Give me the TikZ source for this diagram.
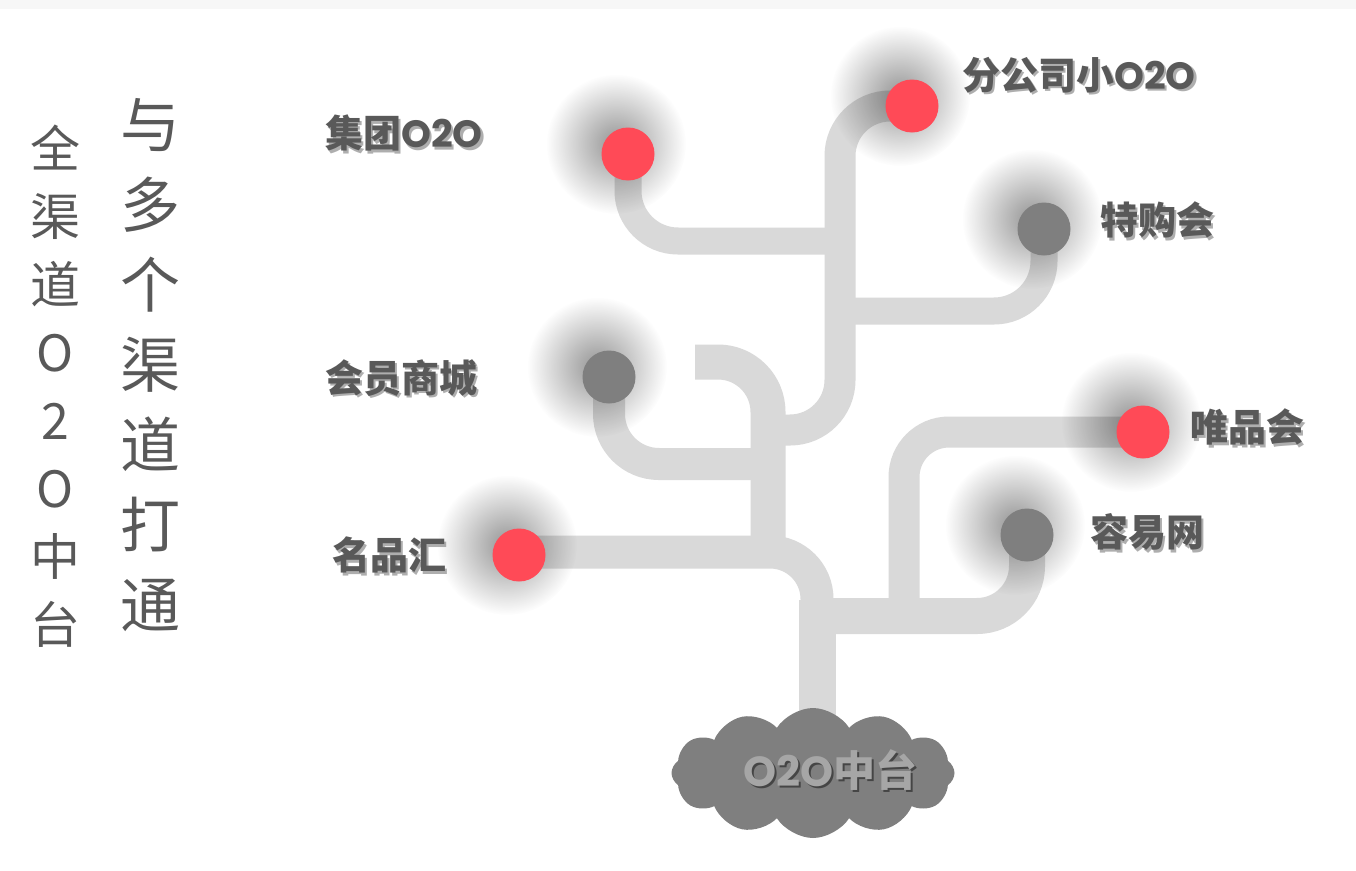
\documentclass[tikz,border=0pt]{standalone}
\usepackage{fontspec}
\newfontfamily\cjkfont{Noto Sans CJK SC}
\newfontfamily\popfont{Poppins}
\usetikzlibrary{shapes.symbols,fadings}
\definecolor{pipegray}{HTML}{D9D9D9}
\definecolor{dotred}{HTML}{FF4A57}
\definecolor{dotgray}{HTML}{7F7F7F}
\definecolor{txtgray}{HTML}{595959}
\definecolor{shadowgray}{HTML}{8C8C8C}
\definecolor{cloudtxt}{HTML}{A6A6A6}
\definecolor{topband}{HTML}{F7F7F7}
\tikzfading[name=glowfade, inner color=transparent!0, outer color=transparent!100]
\begin{document}
\begin{tikzpicture}[x=1pt,y=-1pt,
  pipe/.style={draw=pipegray,line width=#1,line cap=butt,rounded corners=50pt},
  pipe/.default=31pt,
  dotbase/.style={circle,minimum size=53pt,inner sep=0pt},
  reddot/.style={dotbase,fill=dotred},
  graydot/.style={dotbase,fill=dotgray},
  glow/.style={fill=black,opacity=0.42,path fading=glowfade},
  lbl/.style={anchor=west,inner sep=0pt,text=txtgray,font=\fontsize{38}{40}\selectfont\bfseries},
  lblshadow/.style={lbl,text=shadowgray,opacity=0.7,xshift=2.5pt,yshift=-2.5pt},
  coltext/.style={align=center,text=txtgray,inner sep=0pt}]
\useasboundingbox (0,0) rectangle (1356,870);
\fill[white] (0,0) rectangle (1356,870);
\fill[topband] (0,0) rectangle (1356,9);

% junction coordinates
\coordinate (c1) at (840,241);
\coordinate (c2) at (840,430);
\coordinate (c3) at (768,430);
\coordinate (c4) at (840,311);
\coordinate (c5) at (768,464);
\coordinate (c6) at (695,362);
\coordinate (c7) at (768,552);
\coordinate (c8) at (817,600);
\coordinate (c9) at (817,745);
\coordinate (c10) at (904,616);
\coordinate (c11) at (817,616);

% dot positions
\path (628,154) coordinate (pjt) (912,106) coordinate (pfgs)
      (1044,229) coordinate (ptg) (609,377) coordinate (phy)
      (519,555) coordinate (pmp) (1143,432) coordinate (pwp)
      (1027,535) coordinate (pry);

% pipes
\draw[pipe=27pt] (pjt) |- (c1);
\draw[pipe=27pt] (ptg) |- (c4);
\draw[pipe=31pt] (pfgs) -| (c2) -- (c3);
\draw[pipe=32pt] (phy) |- (c5);
\draw[pipe=35pt] (c6) -| (c7);
\draw[pipe=33pt,rounded corners=47pt] (pmp |- 0,552) -| (c8);
\draw[pipe=37pt] (c8) -- (c9);
\draw[pipe=31pt,rounded corners=45pt] (pwp) -| (c10);
\draw[pipe=36pt] (c11) -| (pry);

% glows behind dots
\foreach \p in {pjt,pfgs,ptg,phy,pmp,pwp,pry}
  \fill[glow] ([shift={(-12,-10)}]\p) circle (70pt);

% dots
\node[reddot]  (jt)  at (pjt) {};
\node[reddot]  (fgs) at (pfgs) {};
\node[graydot] (tg)  at (ptg) {};
\node[graydot] (hy)  at (phy) {};
\node[reddot]  (mp)  at (pmp) {};
\node[reddot]  (wp)  at (pwp) {};
\node[graydot] (ry)  at (pry) {};

% cloud
\node[cloud,cloud puffs=12,cloud puff arc=115,aspect=2.2,fill=dotgray,
  minimum width=283pt,minimum height=130pt,inner sep=0pt] (cl) at (813,773) {};
\node[font=\fontsize{42}{44}\selectfont\bfseries,text=black,opacity=0.45,xshift=2.5pt,yshift=-2.5pt] (cltxs) at (830,770) {\popfont O2O\cjkfont 中台};
\node[font=\fontsize{42}{44}\selectfont\bfseries,text=cloudtxt] (cltx) at (830,770) {\popfont O2O\cjkfont 中台};

% labels
\node[lblshadow] (ljts) at (325,133) {\cjkfont 集团\popfont O2O};
\node[lbl] (ljt) at (325,133) {\cjkfont 集团\popfont O2O};
\node[lblshadow] (lfgss) at (962,75) {\cjkfont 分公司小\popfont O2O};
\node[lbl] (lfgs) at (962,75) {\cjkfont 分公司小\popfont O2O};
\node[lblshadow] (ltgs) at (1100,220) {\cjkfont 特购会};
\node[lbl] (ltg) at (1100,220) {\cjkfont 特购会};
\node[lblshadow] (lhys) at (325,378) {\cjkfont 会员商城};
\node[lbl] (lhy) at (325,378) {\cjkfont 会员商城};
\node[lblshadow] (lwps) at (1190,427) {\cjkfont 唯品会};
\node[lbl] (lwp) at (1190,427) {\cjkfont 唯品会};
\node[lblshadow] (lmps) at (332,555) {\cjkfont 名品汇};
\node[lbl] (lmp) at (332,555) {\cjkfont 名品汇};
\node[lblshadow] (lrys) at (1090,532) {\cjkfont 容易网};
\node[lbl] (lry) at (1090,532) {\cjkfont 容易网};

% vertical titles
\node[coltext,font=\cjkfont\fontsize{50}{68}\selectfont] (col1) at (55,386)
  {全\\渠\\道\\O\\2\\O\\中\\台};
\node[coltext,font=\cjkfont\fontsize{60}{80}\selectfont] (col2) at (150,365)
  {与\\多\\个\\渠\\道\\打\\通};
\end{tikzpicture}
\end{document}
